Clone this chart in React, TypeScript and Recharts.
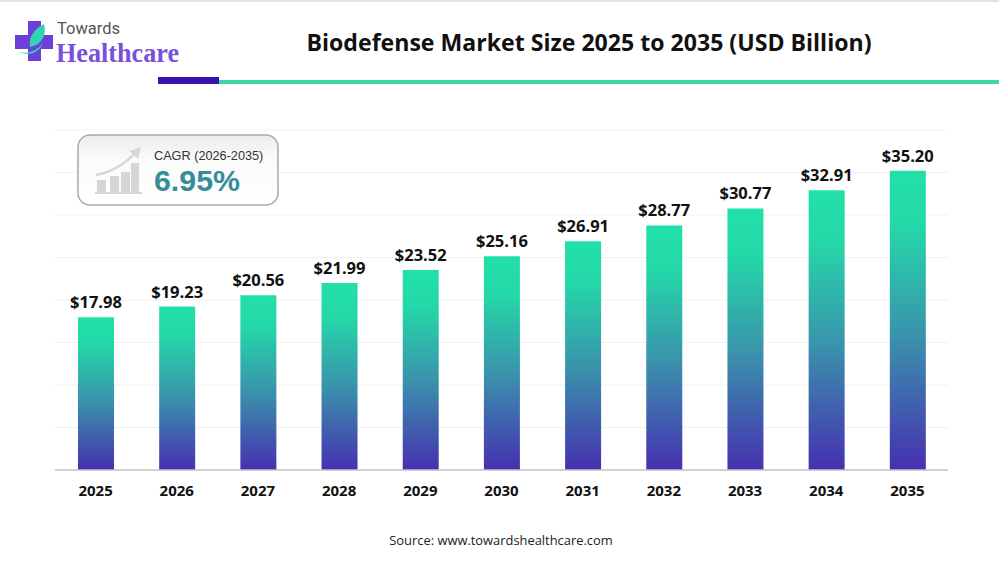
import React from 'react';
import { BarChart, Bar, XAxis, YAxis, CartesianGrid, LabelList } from 'recharts';

const years = ['2025', '2026', '2027', '2028', '2029', '2030', '2031', '2032', '2033', '2034', '2035'];
const marketSize = [17.98, 19.23, 20.56, 21.99, 23.52, 25.16, 26.91, 28.77, 30.77, 32.91, 35.2];
const yTicks = [0, 5, 10, 15, 20, 25, 30, 35, 40];

const chartData = years.map((year, i) => ({ year, value: marketSize[i] }));

const labelFont = '"Open Sans", sans-serif';

function Header() {
  return (
    <svg width={999} height={565} style={{ position: 'absolute', left: 0, top: 0, pointerEvents: 'none' }}>
      <defs>
        <linearGradient id="cagrBox" x1="0" y1="0" x2="0" y2="1">
          <stop offset="0%" stopColor="#ececec" />
          <stop offset="35%" stopColor="#fafafa" />
          <stop offset="100%" stopColor="#ffffff" />
        </linearGradient>
      </defs>
      <rect x={0} y={0} width={999} height={2} fill="#e2e2e2" />

      {/* logo */}
      <path d="M28 21h13v14h12v14H41v12H28V49H15V35h13z" fill="#6d3fd8" />
      <path d="M30 47C28 36 36 28 44 24C47 34 42 45 30 47z" fill="#2fd6b4" />
      <path d="M17 51C26 55 36 52 43 43C40 51 30 58 17 51z" fill="#2fd6b4" />
      <text x={57} y={34} fontFamily="Roboto, sans-serif" fontSize={16.5} fill="#555">Towards</text>
      <text x={56} y={62} fontFamily='"Liberation Serif", serif' fontWeight={700} fontSize={28} fill="#7a4fdc" textLength={123} lengthAdjust="spacingAndGlyphs">Healthcare</text>

      <text x={589} y={51} textAnchor="middle" fontFamily={labelFont} fontWeight={700} fontSize={23} fill="#111" textLength={565} lengthAdjust="spacingAndGlyphs">Biodefense Market Size 2025 to 2035 (USD Billion)</text>

      <rect x={219} y={80} width={780} height={4} fill="#3dd6ab" />
      <rect x={158} y={77} width={61} height={7} fill="#3a12ad" />

      {/* CAGR badge */}
      <rect x={78} y={135} width={200} height={70} rx={12} fill="url(#cagrBox)" stroke="#a8a8a8" strokeWidth={1.5} />
      <g fill="#d6d6d6">
        <rect x={97} y={180} width={9} height={13} />
        <rect x={110} y={176} width={9} height={17} />
        <rect x={121} y={172} width={9} height={21} />
        <rect x={131} y={163} width={8} height={30} />
        <rect x={95} y={192} width={47} height={2} />
      </g>
      <path d="M96 175C112 172 126 163 136 152" fill="none" stroke="#d6d6d6" strokeWidth={2.5} />
      <path d="M129 151L141 147L138 159z" fill="#d6d6d6" />
      <text x={154} y={160} fontFamily='"Liberation Sans", sans-serif' fontSize={12.7} fill="#333">CAGR (2026-2035)</text>
      <text x={154} y={191} fontFamily='"Liberation Sans", sans-serif' fontWeight={700} fontSize={29} fill="#358d97" textLength={86} lengthAdjust="spacingAndGlyphs">6.95%</text>

      <text x={501} y={545} textAnchor="middle" fontFamily={labelFont} fontSize={12.9} fill="#222">Source: www.towardshealthcare.com</text>
    </svg>
  );
}

export default function App() {
  return (
    <div style={{ position: 'absolute', left: 0, top: 0, width: 999, height: 565, background: '#fff', overflow: 'hidden' }}>
      <BarChart
        width={999}
        height={565}
        data={chartData}
        margin={{ top: 130, right: 51, bottom: 65, left: 55 }}
      >
        <defs>
          <linearGradient id="barFill" x1="0" y1="0" x2="0" y2="1">
            <stop offset="0%" stopColor="#22e0a8" />
            <stop offset="18%" stopColor="#24d8a8" />
            <stop offset="55%" stopColor="#3a93ac" />
            <stop offset="100%" stopColor="#4630b0" />
          </linearGradient>
        </defs>
        <CartesianGrid vertical={false} stroke="#f1f1f1" />
        <XAxis
          dataKey="year"
          axisLine={{ stroke: '#c4c4c8', strokeWidth: 1.5 }}
          tickLine={false}
          tickMargin={9}
          interval={0}
          tick={{ fontFamily: labelFont, fontWeight: 700, fontSize: 15, fill: '#111' }}
        />
        <YAxis hide domain={[0, 40]} ticks={yTicks} />
        <Bar dataKey="value" fill="url(#barFill)" barSize={36} isAnimationActive={false}>
          <LabelList
            dataKey="value"
            position="top"
            offset={9}
            formatter={(v: number) => `$${v.toFixed(2)}`}
            style={{ fontFamily: labelFont, fontWeight: 700, fontSize: 16.5, fill: '#111' }}
          />
        </Bar>
      </BarChart>
      <Header />
    </div>
  );
}
